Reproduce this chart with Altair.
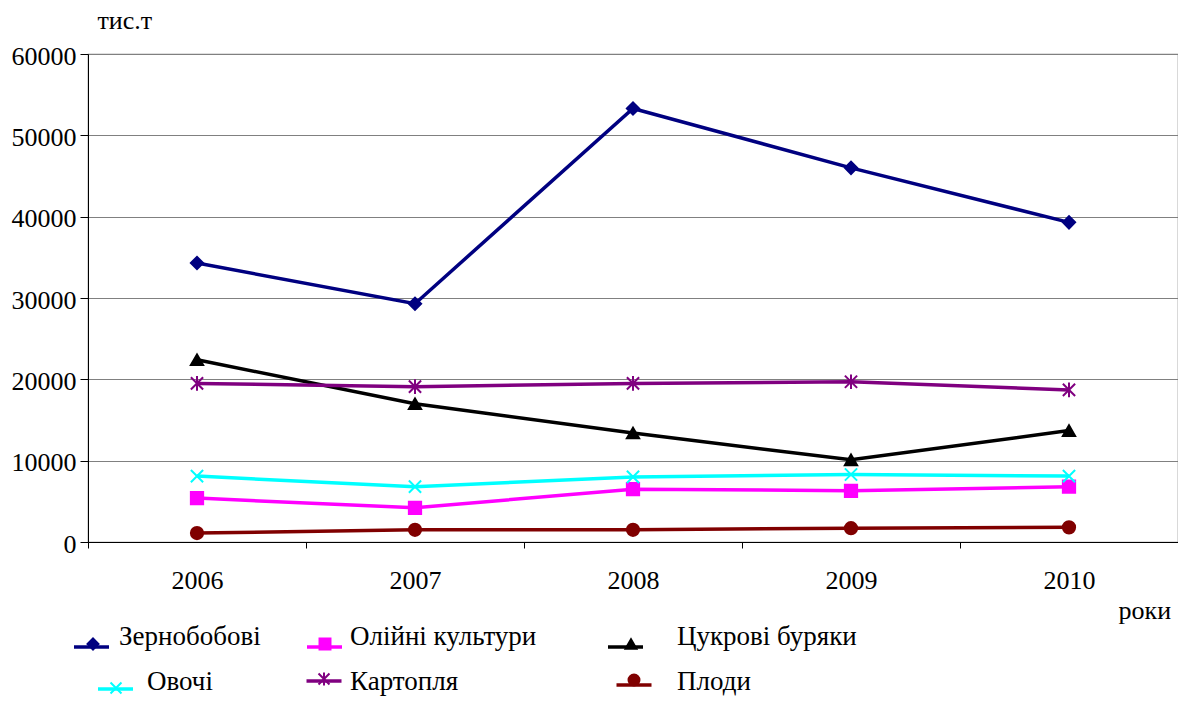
import altair as alt
import pandas as pd

years = ["2006", "2007", "2008", "2009", "2010"]
series_names = ["Зернобобові", "Олійні культури", "Цукрові буряки", "Овочі", "Картопля", "Плоди"]
zernobobovi = [34300, 29300, 53300, 46000, 39300]
oliyni = [5400, 4200, 6500, 6300, 6800]
tsukrovi = [22400, 17000, 13400, 10100, 13700]
ovochi = [8100, 6800, 8000, 8300, 8100]
kartoplia = [19500, 19100, 19500, 19700, 18700]
plody = [1100, 1500, 1500, 1700, 1800]
y_ticks = [0, 10000, 20000, 30000, 40000, 50000, 60000]

colors = ["#000080", "#FF00FF", "#000000", "#00FFFF", "#800080", "#800000"]
shapes = [
    "diamond",
    "square",
    "triangle-up",
    "M-1,-1L1,1M-1,1L1,-1",
    "M-1,-1L1,1M-1,1L1,-1M0,-1.2L0,1.2",
    "circle",
]

values_by_series = [zernobobovi, oliyni, tsukrovi, ovochi, kartoplia, plody]
rows = []
for name, vals in zip(series_names, values_by_series):
    for yr, v in zip(years, vals):
        rows.append({"year": yr, "series": name, "value": v})
df = pd.DataFrame(rows)

legend_df = pd.DataFrame({"series": series_names, "slot": list(range(len(series_names)))})

FONT = "Liberation Serif"
FS = 26
LFS = 27

color_scale = alt.Scale(domain=series_names, range=colors)
shape_scale = alt.Scale(domain=series_names, range=shapes)

x_enc = alt.X(
    "year:O",
    scale=alt.Scale(type="band", paddingInner=0, paddingOuter=0),
    axis=alt.Axis(
        title="роки", titleFont=FONT, titleFontSize=FS, titleFontWeight="normal",
        titleAnchor="start", titleAlign="left", titleBaseline="alphabetic",
        titleX=1030, titleY=76, titleColor="#000000",
        labelAngle=0, labelFont=FONT, labelFontSize=FS, labelPadding=19,
        labelColor="#000000", domainColor="#000000", tickColor="#000000",
        tickSize=6, tickBand="extent", grid=False,
    ),
)
y_enc = alt.Y(
    "value:Q",
    scale=alt.Scale(domain=[0, 60000], nice=False),
    axis=alt.Axis(
        title="тис.т", titleFont=FONT, titleFontSize=FS, titleFontWeight="normal",
        titleAngle=0, titleAlign="left", titleBaseline="alphabetic",
        titleX=9, titleY=-26, titleColor="#000000",
        values=y_ticks, format="d",
        labelFont=FONT, labelFontSize=FS, labelPadding=4, labelColor="#000000",
        labelOffset=2,
        domainColor="#000000", tickColor="#000000", tickSize=8,
        grid=True, gridColor="#808080", gridWidth=1.2,
    ),
)

base = alt.Chart(df)
lines = base.mark_line(strokeWidth=3.5).encode(
    x=x_enc, y=y_enc,
    color=alt.Color("series:N", scale=color_scale, legend=None),
)
points = base.mark_point(filled=True, size=150, strokeWidth=2, opacity=1).encode(
    x=x_enc, y=y_enc,
    color=alt.Color("series:N", scale=color_scale, legend=None),
    stroke=alt.Stroke("series:N", scale=color_scale, legend=None),
    shape=alt.Shape("series:N", scale=shape_scale, legend=None),
)

main = alt.layer(lines, points)

# ---- legend, drawn from its own scales (two rows of three entries) ----
slots = [0, 1, 2, 3, 4, 5]


def slot_x(rng):
    return alt.X("slot:Q", scale=alt.Scale(domain=slots, range=rng, zero=False, nice=False), axis=None)


def slot_y(rng):
    return alt.Y("slot:Q", scale=alt.Scale(domain=slots, range=rng, zero=False, nice=False), axis=None)


leg_base = alt.Chart(legend_df)
leg_lines = leg_base.mark_point(shape="M-1,0L1,0", strokeWidth=3.5,
                                filled=False, opacity=1).encode(
    x=slot_x([3.5, 236.5, 537.5, 27.5, 236, 546]),
    y=slot_y([593, 593, 593, 635, 627, 631]),
    stroke=alt.Stroke("series:N", scale=color_scale, legend=None),
    size=alt.Size("series:N", scale=alt.Scale(domain=series_names,
                                              range=[1225, 1225, 2601, 1225, 1225, 1296]),
                  legend=None),
)
leg_marks = leg_base.mark_point(filled=True, size=120, strokeWidth=2, opacity=1).encode(
    x=slot_x([5, 237, 543, 28, 236, 546]),
    y=slot_y([590, 590, 590, 634, 625, 626]),
    color=alt.Color("series:N", scale=color_scale, legend=None),
    stroke=alt.Stroke("series:N", scale=color_scale, legend=None),
    shape=alt.Shape("series:N", scale=shape_scale, legend=None),
)
leg_text = leg_base.mark_text(align="left", baseline="alphabetic",
                              font=FONT, fontSize=LFS, color="#000000").encode(
    x=slot_x([31, 262, 589, 59, 262, 589]),
    y=slot_y([591, 591, 591, 636, 636, 636]),
    text="series:N",
)
legend = alt.layer(leg_lines, leg_marks, leg_text).resolve_scale(
    x="independent", y="independent"
)

chart = alt.layer(main, legend).resolve_scale(
    x="independent", y="independent"
).properties(
    width=1090, height=488,
    autosize=alt.AutoSizeParams(type="none"),
    padding={"left": 80, "top": 46, "right": 0, "bottom": 154},
    background="#ffffff",
).configure_view(stroke="#808080", strokeWidth=1.2)

chart.save("out.html", embed_options={"renderer": "svg", "actions": False})
